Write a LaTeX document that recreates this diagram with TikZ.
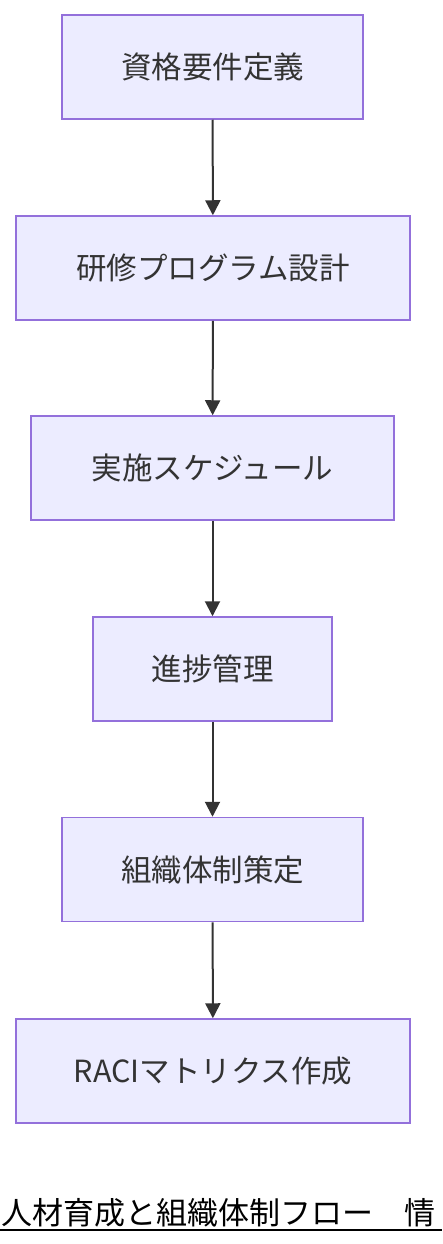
\documentclass[tikz,border=0pt]{standalone}
\usepackage{fontspec}
\setmainfont{Noto Sans CJK JP}
\usetikzlibrary{arrows.meta}
\definecolor{boxfill}{HTML}{ECECFF}
\definecolor{boxline}{HTML}{9370DB}
\definecolor{linkgray}{HTML}{333333}
\tikzset{
  stepbox/.style={draw=boxline, fill=boxfill, line width=1.5pt, minimum height=104pt,
    inner sep=0pt, text=linkgray, font=\fontsize{30.5}{34}\selectfont},
  flow/.style={draw=linkgray, line width=2pt, -{Triangle[width=15pt,length=15pt]}}
}
\begin{document}
\begin{tikzpicture}[x=1pt,y=-1pt]
 \useasboundingbox (0,0) rectangle (442,1244);
 \node[stepbox, minimum width=301pt] (req) at (212.5,67) {資格要件定義};
 \node[stepbox, minimum width=394pt] (prog) at (213,268) {研修プログラム設計};
 \node[stepbox, minimum width=363pt] (sched) at (212.5,468) {実施スケジュール};
 \node[stepbox, minimum width=239pt] (track) at (212.5,669) {進捗管理};
 \node[stepbox, minimum width=301pt] (org) at (212.5,869.5) {組織体制策定};
 \node[stepbox, minimum width=394pt] (raci) at (213,1071) {RACIマトリクス作成};
 %
 \draw[flow] (req) -- (prog);
 \draw[flow] (prog) -- (sched);
 \draw[flow] (sched) -- (track);
 \draw[flow] (track) -- (org);
 \draw[flow] (org) -- (raci);
 %
 \node[anchor=base west, inner sep=0pt, font=\fontsize{31}{34}\selectfont] (title) at (1,1224) {人材育成と組織体制フロー　情};
 \draw[line width=2pt] (0,1229.5) -- (442,1229.5);
\end{tikzpicture}
\end{document}
